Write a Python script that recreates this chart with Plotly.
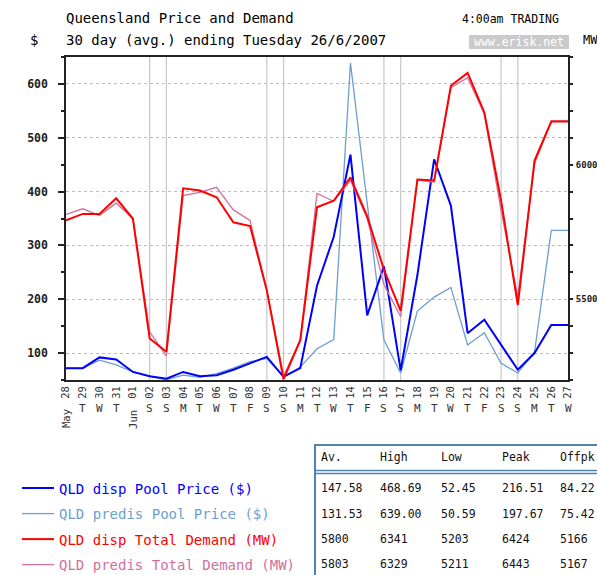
import pandas as pd
import plotly.graph_objects as go

# ---------------- data ----------------
dates = pd.date_range("2007-05-28", "2007-06-27", freq="D")

disp_price = [72, 72, 92, 88, 65, 57, 52.45, 65, 57, 59, 69, 81, 93, 56, 72,
              225, 316, 468.69, 170, 261, 68, 245, 460, 374, 137, 162, 115, 69, 100, 152, 152]
predis_price = [72, 72, 87, 78, 65, 57, 50.59, 59, 55, 62, 72, 84, 90, 56, 74,
                108, 125, 639, 378, 124, 63, 178, 204, 222, 115, 138, 81, 63, 102, 328, 328]
disp_demand = [5793, 5817, 5817, 5875, 5799, 5354, 5305, 5912, 5904, 5879, 5786, 5772, 5533, 5203, 5348,
               5842, 5866, 5953, 5808, 5610, 5457, 5945, 5941, 6293, 6341, 6194, 5867, 5478, 6015, 6160, 6160]
predis_demand = [5815, 5836, 5811, 5857, 5799, 5379, 5289, 5885, 5897, 5916, 5832, 5793, 5533, 5215, 5348,
                 5893, 5864, 5941, 5800, 5555, 5435, 5944, 5935, 6286, 6323, 6188, 5830, 5509, 6002, 6163, 6163]

day_labels = [d.strftime("%d") for d in dates]
weekday_letters = [d.strftime("%a")[0] for d in dates]
month_labels = {0: "May", 4: "Jun"}
weekend_days = [d for d in dates if d.weekday() >= 5]

price_ticks = [100, 200, 300, 400, 500, 600]
demand_ticks = list(range(5200, 6401, 100))
demand_labels = ["5500", "6000"]

series_names = ["QLD disp Pool Price ($)", "QLD predis Pool Price ($)",
                "QLD disp Total Demand (MW)", "QLD predis Total Demand (MW)"]
series_colors = ["#0000FF", "#6C9FD2", "#FF0000", "#D0709E"]

table_headers = ["Av.", "High", "Low", "Peak", "Offpk"]
stats_disp_price = ["147.58", "468.69", "52.45", "216.51", "84.22"]
stats_predis_price = ["131.53", "639.00", "50.59", "197.67", "75.42"]
stats_disp_demand = ["5800", "6341", "5203", "6424", "5166"]
stats_predis_demand = ["5803", "6329", "5211", "6443", "5167"]

# ---------------- layout geometry ----------------
W, H = 597, 575
L, R, T, B = 66, 568, 57, 380
PW, PH = R - L, B - T
MONO = "DejaVu Sans Mono"


def px(x):
    return (x - L) / PW


def py(y):
    return (B - y) / PH


fig = go.Figure()

# price traces (left axis)
fig.add_trace(go.Scatter(x=dates, y=predis_price, mode="lines", yaxis="y",
                         line=dict(color=series_colors[1], width=1.3),
                         name=f"<span style='color:{series_colors[1]}'>{series_names[1]}</span>",
                         legendrank=2, legendgroup="b"))
fig.add_trace(go.Scatter(x=dates, y=disp_price, mode="lines", yaxis="y",
                         line=dict(color=series_colors[0], width=2),
                         name=f"<span style='color:{series_colors[0]}'>{series_names[0]}</span>",
                         legendrank=1, legendgroup="a"))
# demand traces (right axis)
fig.add_trace(go.Scatter(x=dates, y=predis_demand, mode="lines", yaxis="y2",
                         line=dict(color=series_colors[3], width=1.3),
                         name=f"<span style='color:{series_colors[3]}'>{series_names[3]}</span>",
                         legendrank=4, legendgroup="d"))
fig.add_trace(go.Scatter(x=dates, y=disp_demand, mode="lines", yaxis="y2",
                         line=dict(color=series_colors[2], width=2),
                         name=f"<span style='color:{series_colors[2]}'>{series_names[2]}</span>",
                         legendrank=3, legendgroup="c"))

shapes = []
# weekend vertical lines
for d in weekend_days:
    shapes.append(dict(type="line", xref="x", yref="paper", x0=d, x1=d, y0=0, y1=1,
                       line=dict(color="#C8C8C8", width=1.2), layer="below"))
# erisk box
shapes.append(dict(type="rect", xref="paper", yref="paper", x0=px(469), x1=px(569),
                   y0=py(49), y1=py(35), fillcolor="#CACACA", line=dict(width=0)))
# table box
tb = "#4F84B2"
shapes.append(dict(type="rect", xref="paper", yref="paper", x0=px(315), x1=px(605),
                   y0=py(585), y1=py(445), line=dict(color=tb, width=2)))
shapes.append(dict(type="line", xref="paper", yref="paper", x0=px(315), x1=px(605),
                   y0=py(470.5), y1=py(470.5), line=dict(color=tb, width=1.5)))
shapes.append(dict(type="line", xref="paper", yref="paper", x0=px(315), x1=px(605),
                   y0=py(473.5), y1=py(473.5), line=dict(color=tb, width=1.5)))

ann = []


def text(x, y, s, size=14, color="#000", xanchor="left", angle=0, family=MONO, weight="normal"):
    ann.append(dict(x=px(x), y=py(y), xref="paper", yref="paper", text=s, showarrow=False,
                    xanchor=xanchor, yanchor="middle", textangle=angle,
                    font=dict(family=family, size=size, color=color, weight=weight)))


text(64, 18, "Queensland Price and Demand")
text(64, 40, "30 day (avg.) ending Tuesday 26/6/2007")
text(28, 40, "$")
text(561, 19, "4:00am TRADING", size=11.5, xanchor="right")
text(519, 42, "www.erisk.net", size=11.5, color="#FFFFFF", xanchor="center")
text(581, 40, "MW", size=12)

# weekday letters and months under the x axis
for i, d in enumerate(dates):
    if i in month_labels:
        ann.append(dict(x=d, y=py(419), xref="x", yref="paper", text=month_labels[i],
                        showarrow=False, textangle=-90, xanchor="center", yanchor="middle",
                        font=dict(family=MONO, size=10.5, color="#333")))
    else:
        ann.append(dict(x=d, y=py(408), xref="x", yref="paper", text=weekday_letters[i],
                        showarrow=False, xanchor="center", yanchor="middle",
                        font=dict(family=MONO, size=11, color="#333")))

# table text
col_x = [319, 378, 439, 500, 558]
row_y = [457, 488, 514, 539, 564]
rows = [table_headers, stats_disp_price, stats_predis_price, stats_disp_demand, stats_predis_demand]
for r, vals in enumerate(rows):
    for c, v in enumerate(vals):
        text(col_x[c], row_y[r], v, size=11.5, color="#111")

fig.update_layout(
    width=W, height=H, template="none",
    margin=dict(l=L, r=W - R, t=T, b=H - B, pad=0, autoexpand=False),
    paper_bgcolor="white", plot_bgcolor="white",
    showlegend=True,
    legend=dict(x=px(17), xanchor="left", y=py(472.5), yanchor="top",
                font=dict(family=MONO, size=14), bgcolor="rgba(0,0,0,0)",
                traceorder="grouped", tracegroupgap=4.3, itemwidth=32, borderwidth=0),
    shapes=shapes, annotations=ann,
    xaxis=dict(type="date", range=[dates[0], dates[-1]], tickvals=list(dates), ticktext=day_labels,
               tickangle=-90, tickfont=dict(family=MONO, size=10.5, color="#333"),
               showgrid=False, zeroline=False, showline=True, linecolor="#222", linewidth=2,
               mirror=True, ticks="", automargin=False),
    yaxis=dict(range=[50, 650], tickvals=price_ticks, ticks="outside", ticklen=6, tickwidth=1.5,
               tickcolor="#222", showgrid=True, gridcolor="#BDBDBD", griddash="dot", gridwidth=1,
               zeroline=False, showline=True, linecolor="#222", linewidth=1.5, mirror=True,
               tickfont=dict(family=MONO, size=11.5, color="#222", weight="bold"),
               ticklabelstandoff=8, automargin=False,
               minor=dict(dtick=50, tick0=0, ticks="outside", ticklen=3, tickcolor="#222", showgrid=False)),
    yaxis2=dict(range=[5200, 6400], overlaying="y", side="right", tickvals=demand_ticks,
                ticktext=[str(v) if str(v) in demand_labels else "" for v in demand_ticks],
                ticks="outside", ticklen=4, tickwidth=1.5, tickcolor="#222", showgrid=False,
                zeroline=False, showline=False, automargin=False,
                tickfont=dict(family=MONO, size=9, color="#222", weight="bold"),
                ticklabelstandoff=1),
)

fig.write_html("out.html", config={"displayModeBar": False},
               post_script="document.body.style.margin='0px';")
